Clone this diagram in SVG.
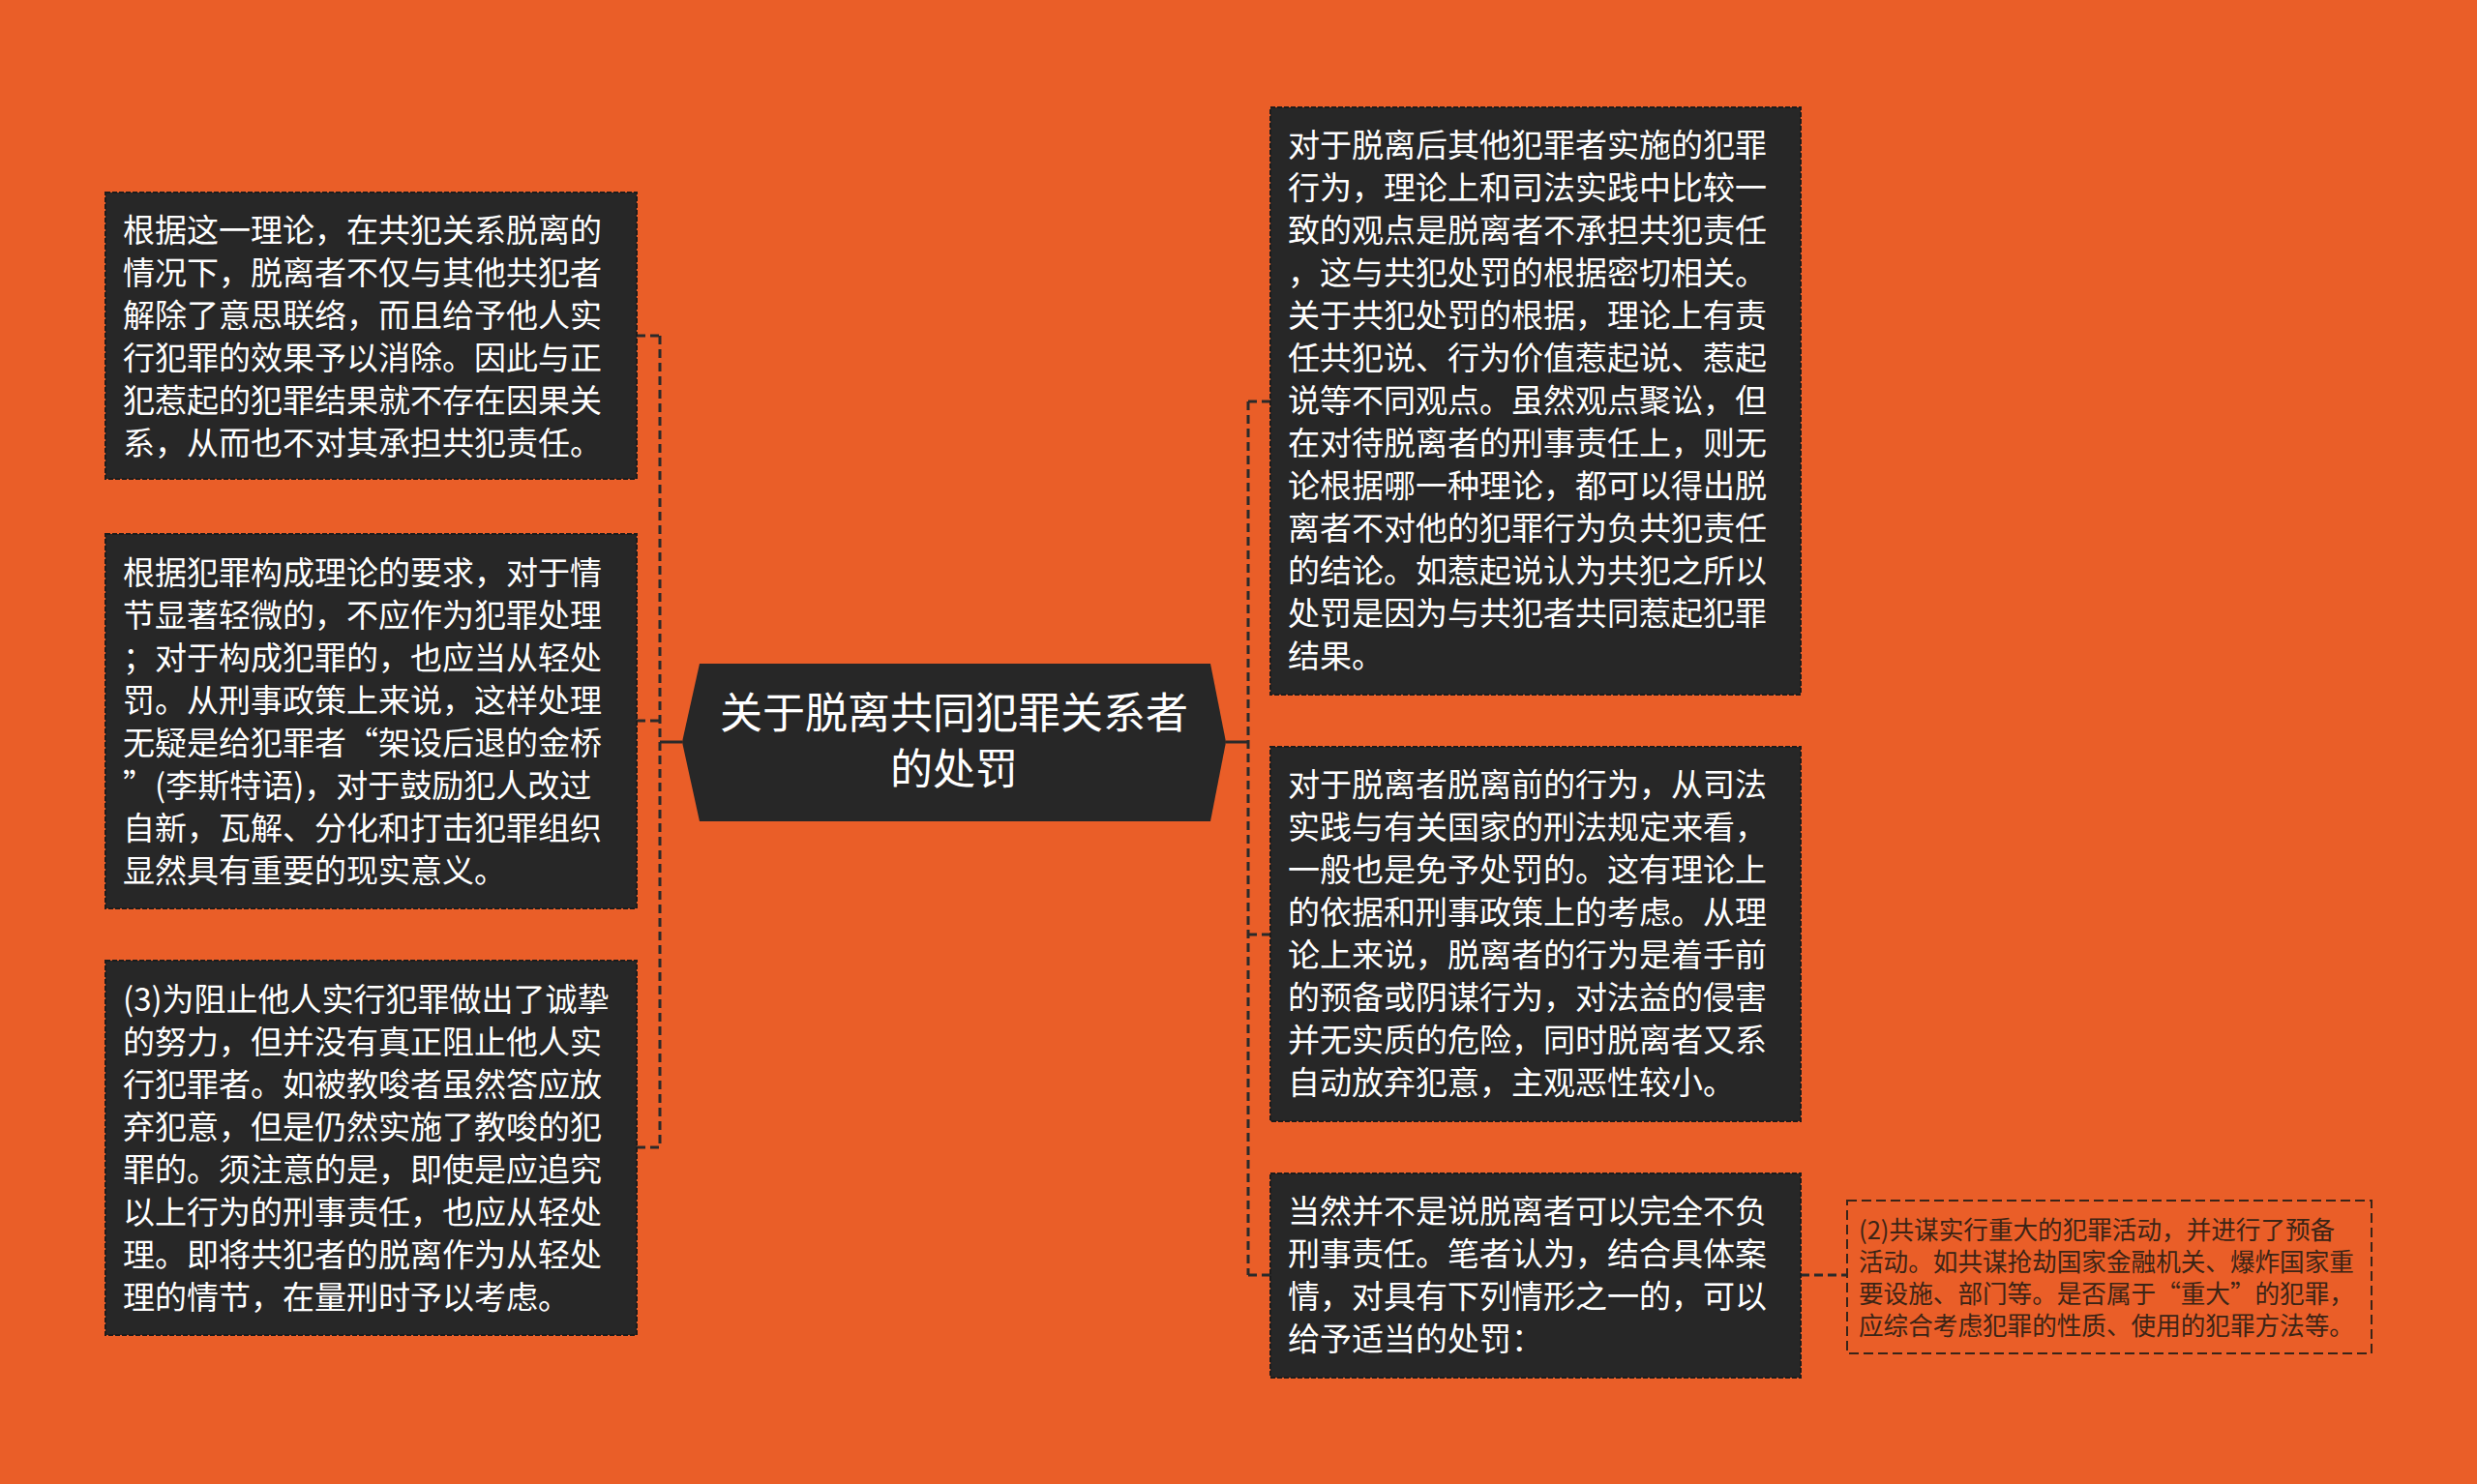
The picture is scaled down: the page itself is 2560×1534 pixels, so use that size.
<svg xmlns="http://www.w3.org/2000/svg" width="2560" height="1534" viewBox="0 0 2560 1534">
<style>
.box{fill:#272727;stroke:#1c1c1c;stroke-width:2;stroke-dasharray:5 2}
.t{font-family:"Noto Sans CJK SC","Noto Sans",sans-serif;font-size:33px;fill:#ffffff}
.ct{font-family:"Noto Sans CJK SC","Noto Sans",sans-serif;font-size:44px;fill:#ffffff;text-anchor:middle}
.lt{font-family:"Noto Sans CJK SC","Noto Sans",sans-serif;font-size:25.6px;fill:#3c2415}
.leaf{fill:none;stroke:#3a2418;stroke-width:2;stroke-dasharray:10 5}
.dl{fill:none;stroke:#2a2a2a;stroke-width:3;stroke-dasharray:9 5}
.sl{fill:none;stroke:#2a2a2a;stroke-width:3}
</style>
<rect width="2560" height="1534" fill="#EA5E28"/>
<g id="connectors">
<path class="sl" d="M705 767 H682"/>
<path class="dl" d="M682 347 V1186"/>
<path class="dl" d="M658 347 H682"/>
<path class="dl" d="M658 745 H682"/>
<path class="dl" d="M658 1186 H682"/>
<path class="sl" d="M1267 767 H1290"/>
<path class="dl" d="M1290 415 V1318"/>
<path class="dl" d="M1290 415 H1313"/>
<path class="dl" d="M1290 966 H1313"/>
<path class="dl" d="M1290 1318 H1313"/>
<path class="dl" d="M1861 1318 H1909"/>
</g>
<g id="center">
<polygon points="705,767 723,686 1251,686 1267,767 1251,849 723,849" fill="#272727"/>
<text class="ct"><tspan x="986" y="753">关于脱离共同犯罪关系者</tspan><tspan x="986" y="811">的处罚</tspan></text>
</g>
<g id="left1">
<rect class="box" x="109" y="199" width="549" height="296"/>
<text class="t"><tspan x="127" y="250">根据这一理论，在共犯关系脱离的</tspan><tspan x="127" dy="44">情况下，脱离者不仅与其他共犯者</tspan><tspan x="127" dy="44">解除了意思联络，而且给予他人实</tspan><tspan x="127" dy="44">行犯罪的效果予以消除。因此与正</tspan><tspan x="127" dy="44">犯惹起的犯罪结果就不存在因果关</tspan><tspan x="127" dy="44">系，从而也不对其承担共犯责任。</tspan></text>
</g>
<g id="left2">
<rect class="box" x="109" y="552" width="549" height="387"/>
<text class="t"><tspan x="127" y="604">根据犯罪构成理论的要求，对于情</tspan><tspan x="127" dy="44">节显著轻微的，不应作为犯罪处理</tspan><tspan x="127" dy="44">；对于构成犯罪的，也应当从轻处</tspan><tspan x="127" dy="44">罚。从刑事政策上来说，这样处理</tspan><tspan x="127" dy="44">无疑是给犯罪者“架设后退的金桥</tspan><tspan x="127" dy="44">”(李斯特语)，对于鼓励犯人改过</tspan><tspan x="127" dy="44">自新，瓦解、分化和打击犯罪组织</tspan><tspan x="127" dy="44">显然具有重要的现实意义。</tspan></text>
</g>
<g id="left3">
<rect class="box" x="109" y="993" width="549" height="387"/>
<text class="t"><tspan x="127" y="1045">(3)为阻止他人实行犯罪做出了诚挚</tspan><tspan x="127" dy="44">的努力，但并没有真正阻止他人实</tspan><tspan x="127" dy="44">行犯罪者。如被教唆者虽然答应放</tspan><tspan x="127" dy="44">弃犯意，但是仍然实施了教唆的犯</tspan><tspan x="127" dy="44">罪的。须注意的是，即使是应追究</tspan><tspan x="127" dy="44">以上行为的刑事责任，也应从轻处</tspan><tspan x="127" dy="44">理。即将共犯者的脱离作为从轻处</tspan><tspan x="127" dy="44">理的情节，在量刑时予以考虑。</tspan></text>
</g>
<g id="right1">
<rect class="box" x="1313" y="111" width="548" height="607"/>
<text class="t"><tspan x="1331" y="162">对于脱离后其他犯罪者实施的犯罪</tspan><tspan x="1331" dy="44">行为，理论上和司法实践中比较一</tspan><tspan x="1331" dy="44">致的观点是脱离者不承担共犯责任</tspan><tspan x="1331" dy="44">，这与共犯处罚的根据密切相关。</tspan><tspan x="1331" dy="44">关于共犯处罚的根据，理论上有责</tspan><tspan x="1331" dy="44">任共犯说、行为价值惹起说、惹起</tspan><tspan x="1331" dy="44">说等不同观点。虽然观点聚讼，但</tspan><tspan x="1331" dy="44">在对待脱离者的刑事责任上，则无</tspan><tspan x="1331" dy="44">论根据哪一种理论，都可以得出脱</tspan><tspan x="1331" dy="44">离者不对他的犯罪行为负共犯责任</tspan><tspan x="1331" dy="44">的结论。如惹起说认为共犯之所以</tspan><tspan x="1331" dy="44">处罚是因为与共犯者共同惹起犯罪</tspan><tspan x="1331" dy="44">结果。</tspan></text>
</g>
<g id="right2">
<rect class="box" x="1313" y="772" width="548" height="387"/>
<text class="t"><tspan x="1331" y="823">对于脱离者脱离前的行为，从司法</tspan><tspan x="1331" dy="44">实践与有关国家的刑法规定来看，</tspan><tspan x="1331" dy="44">一般也是免予处罚的。这有理论上</tspan><tspan x="1331" dy="44">的依据和刑事政策上的考虑。从理</tspan><tspan x="1331" dy="44">论上来说，脱离者的行为是着手前</tspan><tspan x="1331" dy="44">的预备或阴谋行为，对法益的侵害</tspan><tspan x="1331" dy="44">并无实质的危险，同时脱离者又系</tspan><tspan x="1331" dy="44">自动放弃犯意，主观恶性较小。</tspan></text>
</g>
<g id="right3">
<rect class="box" x="1313" y="1213" width="548" height="211"/>
<text class="t"><tspan x="1331" y="1264">当然并不是说脱离者可以完全不负</tspan><tspan x="1331" dy="44">刑事责任。笔者认为，结合具体案</tspan><tspan x="1331" dy="44">情，对具有下列情形之一的，可以</tspan><tspan x="1331" dy="44">给予适当的处罚：</tspan></text>
</g>
<g id="leaf">
<rect class="leaf" x="1909" y="1241" width="542" height="158"/>
<text class="lt"><tspan x="1921" y="1281">(2)共谋实行重大的犯罪活动，并进行了预备</tspan><tspan x="1921" dy="33">活动。如共谋抢劫国家金融机关、爆炸国家重</tspan><tspan x="1921" dy="33">要设施、部门等。是否属于“重大”的犯罪，</tspan><tspan x="1921" dy="33">应综合考虑犯罪的性质、使用的犯罪方法等。</tspan></text>
</g>
</svg>
